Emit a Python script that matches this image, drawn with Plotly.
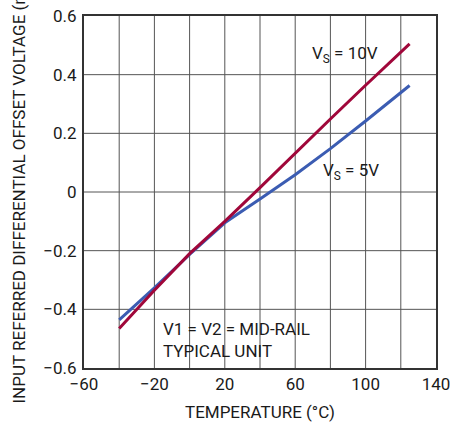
import plotly.graph_objects as go

temps = [-40, -20, 0, 20, 40, 60, 80, 100, 125]
vs10 = [-0.465, -0.335, -0.21, -0.10, 0.015, 0.133, 0.249, 0.364, 0.505]
vs5 = [-0.436, -0.327, -0.213, -0.105, -0.024, 0.059, 0.148, 0.242, 0.363]

xticks = [-60, -20, 20, 60, 100, 140]
xtick_text = ["\u221260", "\u221220", "20", "60", "100", "140"]
yticks = [-0.6, -0.4, -0.2, 0, 0.2, 0.4, 0.6]
ytick_text = ["\u22120.6", "\u22120.4", "\u22120.2", "0", "0.2", "0.4", "0.6"]

FONT = "Roboto, Liberation Sans, sans-serif"
RED = "#a0073a"
BLUE = "#3b5cb2"
TXT = "#1a1a1a"

fig = go.Figure()
fig.add_trace(go.Scatter(x=temps, y=vs5, mode="lines", line=dict(color=BLUE, width=3), showlegend=False))
fig.add_trace(go.Scatter(x=temps, y=vs10, mode="lines", line=dict(color=RED, width=3), showlegend=False))

# grid: vertical every 20, horizontal every 0.2
for gx in range(-40, 140, 20):
    fig.add_shape(type="line", x0=gx, x1=gx, y0=-0.6, y1=0.6, xref="x", yref="y",
                  line=dict(color="#555555", width=1), layer="below")
for gy in [-0.4, -0.2, 0, 0.2, 0.4]:
    fig.add_shape(type="line", x0=-60, x1=140, y0=gy, y1=gy, xref="x", yref="y",
                  line=dict(color="#555555", width=1), layer="below")

fig.update_xaxes(range=[-60, 140], tickvals=xticks, ticktext=xtick_text, showgrid=False,
                 zeroline=False, showline=True, mirror=True, linecolor="#333333", linewidth=2,
                 ticks="", automargin=False, tickfont=dict(family=FONT, size=17, color=TXT),
                 title=dict(text="TEMPERATURE (\u00b0C)", font=dict(family=FONT, size=17, color=TXT), standoff=13))
fig.update_yaxes(range=[-0.6, 0.6], tickvals=yticks, ticktext=ytick_text, showgrid=False,
                 zeroline=False, showline=True, mirror=True, linecolor="#333333", linewidth=2,
                 ticks="", automargin=False, ticklabelstandoff=2, tickfont=dict(family=FONT, size=17, color=TXT))

fig.add_annotation(text="INPUT REFERRED DIFFERENTIAL OFFSET VOLTAGE (mV)", xref="paper", yref="paper",
                   x=(18 - 84) / 352, y=(368 - 406) / 352, xanchor="center", yanchor="bottom",
                   textangle=-90, showarrow=False, font=dict(family=FONT, size=17, color=TXT))
fig.add_annotation(text="V<sub>S</sub> = 10V", x=68.4, y=0.469, xanchor="left", showarrow=False,
                   font=dict(family=FONT, size=17, color=TXT))
fig.add_annotation(text="V<sub>S</sub> = 5V", x=74.5, y=0.07, xanchor="left", showarrow=False,
                   font=dict(family=FONT, size=17, color=TXT))
fig.add_annotation(text="V1 = V2 = MID-RAIL<br>TYPICAL UNIT", x=-16.5, y=-0.425, xanchor="left", yanchor="top",
                   align="left", showarrow=False, font=dict(family=FONT, size=17, color=TXT))

fig.update_layout(width=452, height=423, margin=dict(l=84, r=16, t=16, b=55, autoexpand=False),
                  paper_bgcolor="white", plot_bgcolor="white")
fig.write_html("out.html")
